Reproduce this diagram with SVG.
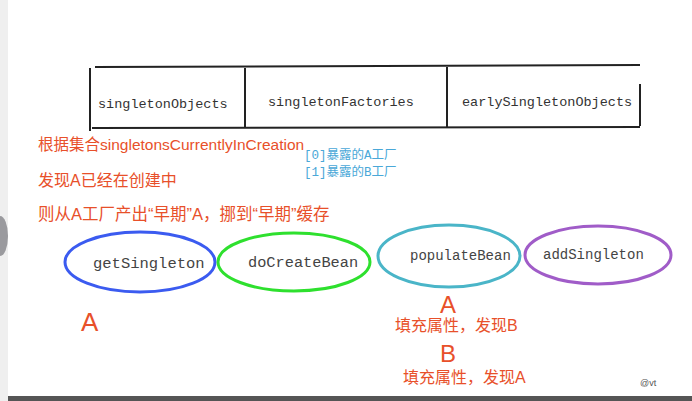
<svg xmlns="http://www.w3.org/2000/svg" width="692" height="401" viewBox="0 0 692 401">
<style>
.cell{font-family:"Liberation Mono",monospace;font-size:13.5px;fill:#333}
.lbl{font-family:"Liberation Mono",monospace;fill:#444}
.red{font-family:"Liberation Sans","Noto Sans CJK SC",sans-serif;fill:#e8502a}
.blue{font-family:"Liberation Mono","Noto Sans CJK SC",monospace;font-size:12.5px;fill:#4aa8d8}
.ln{stroke:#222;stroke-width:2;fill:none}
.ell{fill:none;stroke-width:3}
</style>
<rect x="0" y="0" width="692" height="401" fill="#ffffff"/>
<rect x="0" y="0" width="8" height="401" fill="#efefef"/>
<ellipse cx="0" cy="236" rx="8" ry="20" fill="#9a9a9e"/>
<rect x="8" y="396" width="684" height="5" fill="#555"/>
<g id="table">
<path class="ln" d="M95 67 L640 65"/>
<path class="ln" d="M90 68 L90 131"/>
<path class="ln" d="M92 128 L640 127"/>
<path class="ln" d="M245 68 L245 128"/>
<path class="ln" d="M447 67 L447 128"/>
<path class="ln" d="M640 84 L640 126"/>
<text class="cell" x="98" y="108">singletonObjects</text>
<text class="cell" x="268" y="106">singletonFactories</text>
<text class="cell" x="462" y="106">earlySingletonObjects</text>
</g>
<g id="notes">
<text class="red" x="38" y="150" font-size="15.5">根据集合singletonsCurrentlyInCreation</text>
<text class="red" x="38" y="186" font-size="16">发现A已经在创建中</text>
<text class="red" x="38" y="220" font-size="16.5">则从A工厂产出“早期”A，挪到“早期”缓存</text>
<text class="blue" x="304" y="159">[0]暴露的A工厂</text>
<text class="blue" x="304" y="176">[1]暴露的B工厂</text>
</g>
<g id="getSingleton">
<ellipse class="ell" cx="140" cy="262" rx="75" ry="30" stroke="#3b5bf0"/>
<text class="lbl" x="93" y="268" font-size="15.5">getSingleton</text>
</g>
<g id="doCreateBean">
<ellipse class="ell" cx="294" cy="262" rx="76" ry="29" stroke="#2ee02e"/>
<text class="lbl" x="248" y="267" font-size="15.3">doCreateBean</text>
</g>
<g id="populateBean">
<ellipse class="ell" cx="449" cy="256" rx="71" ry="31" stroke="#4ab5c8"/>
<text class="lbl" x="410" y="260" font-size="14">populateBean</text>
</g>
<g id="addSingleton">
<ellipse class="ell" cx="598" cy="255" rx="73" ry="29" stroke="#a05cc8"/>
<text class="lbl" x="543" y="259" font-size="14">addSingleton</text>
</g>
<g id="labels">
<text class="red" x="81" y="331" font-size="26">A</text>
<text class="red" x="440" y="313" font-size="24">A</text>
<text class="red" x="395" y="331" font-size="16">填充属性，发现B</text>
<text class="red" x="440" y="362" font-size="24">B</text>
<text class="red" x="403" y="383" font-size="16">填充属性，发现A</text>
<text x="640" y="386" font-family="Liberation Sans,sans-serif" font-size="9" fill="#555">@vt</text>
</g>
<g id="connectors"></g>
</svg>
